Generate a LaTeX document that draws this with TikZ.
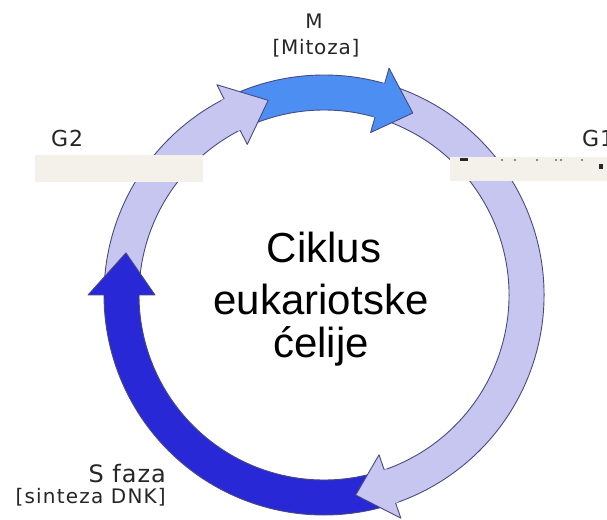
\documentclass[tikz,border=0pt]{standalone}
\usepackage{fontspec}
\newfontfamily\ctrfont{Liberation Sans}
\newfontfamily\lblfont[LetterSpace=4]{DejaVu Sans}
\newfontfamily\lblwide[LetterSpace=6]{DejaVu Sans}
\definecolor{lightband}{HTML}{C6C6F1}
\definecolor{mband}{HTML}{4D8EF2}
\definecolor{sband}{HTML}{2828D6}
\definecolor{edge}{HTML}{4A4A82}
\definecolor{bar}{HTML}{F4F0EA}
\definecolor{lbl}{HTML}{262626}
\def\rout{220}
\def\rin{185}
\def\rmid{202.5}
\def\rbo{236}
\def\rbi{169}
% body: #1 colour, #2 tail angle, #3 base angle
\newcommand\cellbody[3]{%
  \fill[#1] (#2:\rout) arc[start angle=#2, end angle=#3, radius=\rout]
     -- (#3:\rin) arc[start angle=#3, end angle=#2, radius=\rin] -- cycle;
  \draw[arrowedge] (#2:\rin) -- (#2:\rout) arc[start angle=#2, end angle=#3, radius=\rout];
  \draw[arrowedge] (#2:\rin) arc[start angle=#2, end angle=#3, radius=\rin];
}
% head: #1 colour, #2 base angle, #3 tip angle
\newcommand\cellhead[3]{%
  \fill[#1] ({#2+0.8}:\rout) -- (#2:\rout) -- (#2:\rbo) -- (#3:\rmid)
     -- (#2:\rbi) -- (#2:\rin) -- ({#2+0.8}:\rin) -- cycle;
  \draw[arrowedge, line join=round] (#2:\rout) -- (#2:\rbo) -- (#3:\rmid)
     -- (#2:\rbi) -- (#2:\rin);
}
\begin{document}
\begin{tikzpicture}[x=1pt,y=1pt,
  arrowedge/.style={draw=edge, line width=0.9pt},
  lbltext/.style={text=lbl, inner sep=0pt, font=\lblfont\fontsize{20}{22}\selectfont},
  ctrtext/.style={text=black, inner sep=0pt, font=\ctrfont\fontsize{42}{48}\selectfont}]
\useasboundingbox (0,0) rectangle (607,519);
\clip (0,0) rectangle (607,519);
\fill[white] (0,0) rectangle (607,519);

\begin{scope}[shift={(324,224)}]
  % bodies
  \cellbody{lightband}{175.5}{117}
  \cellbody{mband}{112.5}{74}
  \cellbody{lightband}{70}{-71}
  \cellbody{sband}{-75}{-180}
  % heads
  \cellhead{lightband}{117}{106}
  \cellhead{mband}{74}{64}
  \cellhead{lightband}{-71}{-81}
  \cellhead{sband}{-180}{-192}
\end{scope}

% bars covering the ring
\fill[bar] (35,337) rectangle (203,364);
\fill[bar] (450,338) rectangle (607,362);
\foreach \dx in {502,515,537,556,561,582}
  \fill[lbl!70] (\dx,359) circle (1.1);
\fill[lbl] (460,358) rectangle (468,360.5);
\fill[lbl] (599,350) rectangle (603,355);

% labels
\node[lbltext, anchor=base] (m) at (314,490) {M};
\node[lbltext, anchor=base] (mit) at (316,464) {[Mitoza]};
\node[lbltext, anchor=base west, font=\lblfont\fontsize{22}{24}\selectfont] (g2) at (51,372) {G2};
\node[lbltext, anchor=base west, font=\lblfont\fontsize{22}{24}\selectfont] (g1) at (582,372) {G1};
\node[lbltext, anchor=base east, font=\lblfont\fontsize{24}{26}\selectfont] (sf) at (166,37) {S faza};
\node[lbltext, anchor=base east, font=\lblwide\fontsize{20}{22}\selectfont] (sd) at (166,16) {[sinteza DNK]};

\node[ctrtext, anchor=base] (c1) at (324,256) {Ciklus};
\node[ctrtext, anchor=base] (c2) at (321,204) {eukariotske};
\node[ctrtext, anchor=base] (c3) at (321,161) {ćelije};
\end{tikzpicture}
\end{document}
